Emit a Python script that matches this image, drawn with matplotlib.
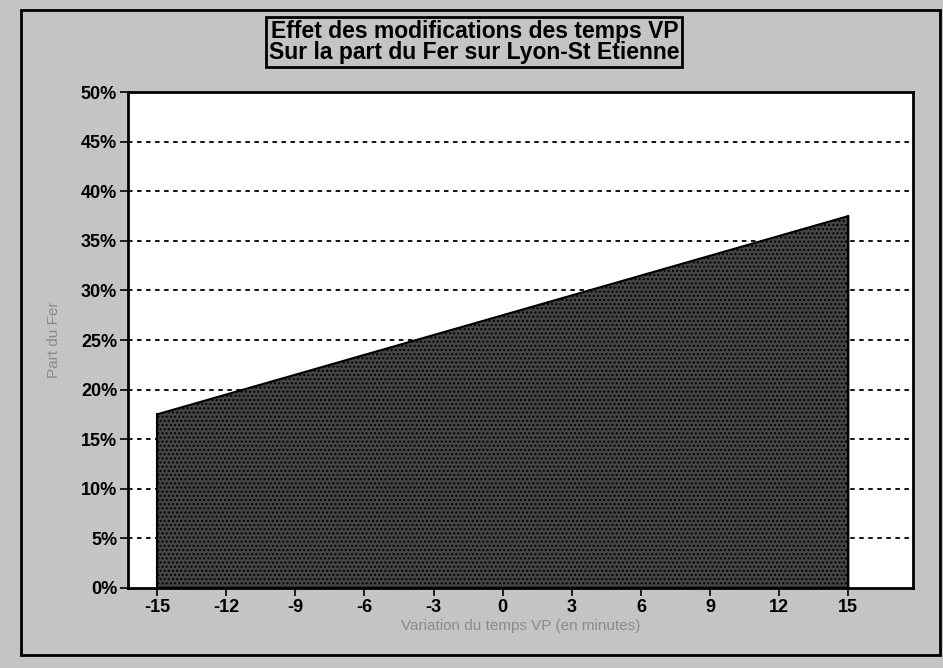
import matplotlib.pyplot as plt
import matplotlib.patches as patches
from matplotlib.ticker import PercentFormatter

# Variation du temps VP (minutes) et part du fer correspondante
variation = [-15, -12, -9, -6, -3, 0, 3, 6, 9, 12, 15]
part_fer = [17.5, 19.5, 21.5, 23.5, 25.5, 27.5, 29.5, 31.5, 33.5, 35.5, 37.5]

x_ticks = [-15, -12, -9, -6, -3, 0, 3, 6, 9, 12, 15]
y_ticks = [0, 5, 10, 15, 20, 25, 30, 35, 40, 45, 50]

title = "Effet des modifications des temps VP\nSur la part du Fer sur Lyon-St Etienne"

plt.rcParams['font.family'] = ['Liberation Sans', 'DejaVu Sans']
plt.rcParams['axes.unicode_minus'] = False

fig = plt.figure(figsize=(9.43, 6.68), dpi=100, facecolor='#c4c4c4')
ax = fig.add_axes([0.136, 0.12, 0.832, 0.742])
ax.set_facecolor('white')

# dashed grid behind the filled area
for y in y_ticks[1:-1]:
    ax.axhline(y, color='black', linestyle=(0, (2.5, 2.5)), linewidth=1.3, zorder=1)

ax.fill_between(variation, part_fer, 0, facecolor='#454545', edgecolor='black',
                linewidth=1.5, hatch='....', zorder=2)
ax.plot([variation[0], variation[0]], [0, part_fer[0]], color='black', lw=1.5, zorder=3)
ax.plot([variation[-1], variation[-1]], [0, part_fer[-1]], color='black', lw=1.5, zorder=3)

ax.set_xlim(-16.25, 17.8)
ax.set_ylim(0, 50)
ax.set_xticks(x_ticks)
ax.set_yticks(y_ticks)
ax.yaxis.set_major_formatter(PercentFormatter(decimals=0))
ax.tick_params(axis='both', direction='out', length=6, width=1.2,
               labelsize=13, pad=2)
for lbl in ax.get_xticklabels() + ax.get_yticklabels():
    lbl.set_fontweight('bold')
for sp in ax.spines.values():
    sp.set_linewidth(2)

ax.set_xlabel("Variation du temps VP (en minutes)", color='#8a8a8a', fontsize=11, labelpad=2)
ax.set_ylabel("Part du Fer", color='#8a8a8a', fontsize=11, labelpad=14)

fig.text(0.503, 0.937, title, ha='center', va='center', fontsize=16.5,
         fontweight='bold', linespacing=0.9,
         bbox=dict(boxstyle='square,pad=0.12', facecolor='#c4c4c4',
                   edgecolor='black', linewidth=2))

# outer frame
fig.add_artist(patches.Rectangle((0.022, 0.02), 0.975, 0.965, transform=fig.transFigure,
                                 fill=False, edgecolor='black', linewidth=2))

fig.savefig('out.png', dpi=100, facecolor=fig.get_facecolor())
